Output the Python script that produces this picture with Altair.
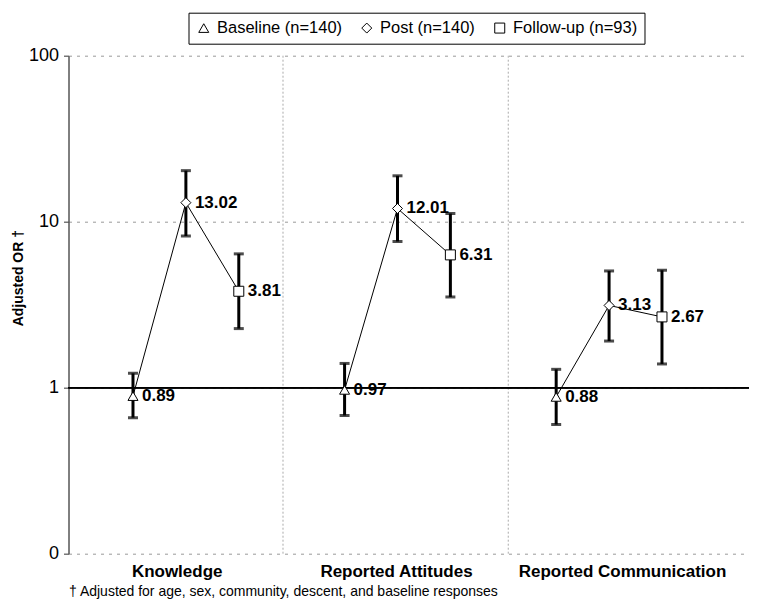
import altair as alt
import pandas as pd

categories = ["Knowledge", "Reported Attitudes", "Reported Communication"]
stages = ["Baseline (n=140)", "Post (n=140)", "Follow-up (n=93)"]
shapes = ["triangle-up", "diamond", "square"]

# adjusted odds ratios and 95% CI, per category x stage
or_values = [[0.89, 13.02, 3.81], [0.97, 12.01, 6.31], [0.88, 3.13, 2.67]]
ci_low = [[0.66, 8.2, 2.27], [0.68, 7.6, 3.52], [0.60, 1.91, 1.39]]
ci_high = [[1.22, 20.3, 6.4], [1.40, 18.9, 11.2], [1.29, 5.05, 5.1]]
x_pos = [[1, 2, 3], [5, 6, 7], [9, 10, 11]]

separators = [3.836, 8.094]
category_label_pos = [1.826, 5.972, 10.245]
y_ticks = [0.1, 1, 10, 100]
footnote = "† Adjusted for age, sex, community, descent, and baseline responses"

rows = []
for i, c in enumerate(categories):
    for j, s in enumerate(stages):
        rows.append({"cat": c, "stage": s, "pos": x_pos[i][j],
                     "or": or_values[i][j], "lo": ci_low[i][j], "hi": ci_high[i][j]})
df = pd.DataFrame(rows)
sep_df = pd.DataFrame({"sep": separators})

FONT = "Liberation Sans"

xscale = alt.Scale(domain=[-0.219, 12.645], nice=False, zero=False)
yscale = alt.Scale(type="log", domain=[0.1, 100], nice=False)
shape_scale = alt.Scale(domain=stages, range=shapes)

label_expr = ("datum.value < 4 ? '" + categories[0] + "' : datum.value < 8 ? '"
              + categories[1] + "' : '" + categories[2] + "'")

xaxis = alt.Axis(values=category_label_pos, labelExpr=label_expr, domain=False,
                 ticks=False, tickSize=0, grid=False, labelFontSize=17,
                 labelFontWeight="bold", labelColor="black", labelPadding=10,
                 labelBaseline="top", labelLimit=400, labelOverlap=False,
                 title=footnote, titleX=0, titleY=31,
                 titleAlign="left", titleAnchor="start", titleBaseline="top",
                 titleFontSize=14, titleFontWeight="normal", titleColor="black",
                 titleLimit=700)
yaxis = alt.Axis(values=y_ticks, format="d", grid=True, gridDash=[3, 5],
                 gridColor="#999999", gridWidth=1, domainColor="#555555",
                 domainWidth=1.5, tickColor="#555555", tickWidth=1.2, tickSize=5,
                 labelFontSize=18, labelColor="black", labelPadding=5,
                 title="Adjusted OR †", titleFontSize=14, titleFontWeight="bold",
                 titleColor="black", titleX=-50, titleY=222, titleAngle=270,
                 titleBaseline="middle", titleAlign="center")

X = alt.X("pos:Q", scale=xscale, axis=xaxis)
Y = alt.Y("or:Q", scale=yscale, axis=yaxis)

base = alt.Chart(df)

seps = alt.Chart(sep_df).mark_rule(color="#aaaaaa", strokeDash=[2, 2], strokeWidth=1).encode(
    x=alt.X("sep:Q", scale=xscale, axis=xaxis)
)
one_line = base.mark_rule(color="black", strokeWidth=1.2).encode(
    y=alt.Y(datum=1, type="quantitative", scale=yscale, axis=yaxis)
)
lines = base.mark_line(color="black", strokeWidth=1).encode(
    x=X, y=Y, detail="cat:N", order="pos:Q"
)
err = base.mark_rule(color="black", strokeWidth=3).encode(
    x=X, y=alt.Y("lo:Q", scale=yscale, axis=yaxis), y2="hi:Q"
)
cap_lo = base.mark_tick(orient="horizontal", size=10, thickness=3, color="black").encode(
    x=X, y=alt.Y("lo:Q", scale=yscale, axis=yaxis)
)
cap_hi = base.mark_tick(orient="horizontal", size=10, thickness=3, color="black").encode(
    x=X, y=alt.Y("hi:Q", scale=yscale, axis=yaxis)
)
points_bg = base.mark_point(filled=True, color="white", size=100, opacity=1).encode(
    x=X, y=Y, shape=alt.Shape("stage:N", scale=shape_scale, legend=None)
)
points = base.mark_point(filled=False, color="black", strokeWidth=1,
                         size=100, opacity=1).encode(
    x=X, y=Y,
    shape=alt.Shape("stage:N", scale=shape_scale,
                    legend=alt.Legend(title=None, orient="none", legendX=120, legendY=-43,
                                      direction="horizontal", strokeColor="black",
                                      fillColor="white", padding=7, labelFontSize=16.5,
                                      labelColor="black", symbolSize=100,
                                      symbolStrokeColor="black", symbolStrokeWidth=1,
                                      labelOffset=5, columnPadding=16)),
)
labels = base.mark_text(align="left", baseline="middle", dx=9, fontSize=17,
                        fontWeight="bold", color="black").encode(
    x=X, y=Y, text=alt.Text("or:Q", format=".2f")
)

chart = alt.layer(seps, one_line, lines, err, cap_lo, cap_hi, points_bg, points,
                  labels).resolve_legend(shape="independent").properties(
    width=680.5, height=498,
    autosize=alt.AutoSizeParams(type="none"),
    padding={"left": 60.5, "top": 47.7, "right": 0, "bottom": 45},
).configure(font=FONT).configure_view(strokeWidth=0)

chart.save("out.html", embed_options={"renderer": "svg", "actions": False})
